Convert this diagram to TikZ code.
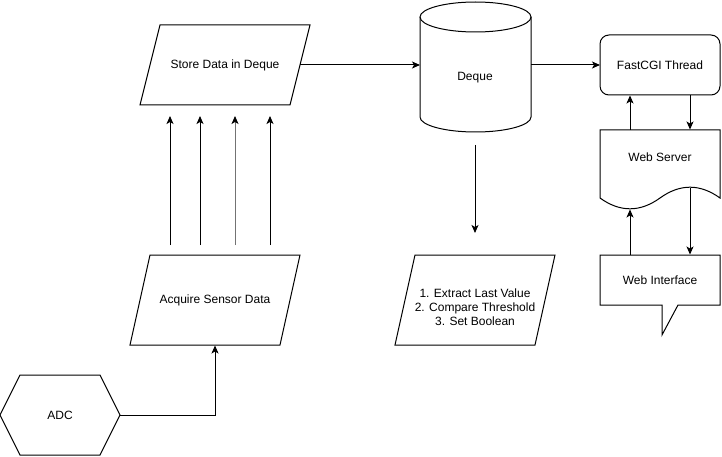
\documentclass[tikz,border=0pt]{standalone}
\usepackage{fontspec}
\setmainfont{Liberation Sans}
\usetikzlibrary{arrows.meta}
\begin{document}
\begin{tikzpicture}[x=1pt,y=-1pt,
  shp/.style={draw=black,line width=1pt,line join=miter},
  lbl/.style={font=\fontsize{12}{14}\selectfont,inner sep=0pt,align=center},
  arr/.style={draw=black,line width=1pt,-{Stealth[length=8pt,width=7pt,inset=2pt,color=black]}},
  garr/.style={arr,draw=black!55}]
\useasboundingbox (0,0) rectangle (722,457);
% shapes
\draw[shp] (160,25) -- (310,25) -- (290,105) -- (140,105) -- cycle;
\node[lbl] (store) at (225,65) {Store Data in Deque};
\draw[shp] (150,255) -- (300,255) -- (280,345) -- (130,345) -- cycle;
\node[lbl] (acq) at (215,300) {Acquire Sensor Data};
\draw[shp] (0,415) -- (20,375) -- (100,375) -- (120,415) -- (100,455) -- (20,455) -- cycle;
\node[lbl] (adc) at (60,415) {ADC};
% cylinder
\draw[shp] (420,17) -- (420,117) arc[start angle=180,end angle=360,x radius=55.5,y radius=-15] -- (531,17);
\draw[shp] (475.5,17) ellipse[x radius=55.5,y radius=15];
\node[lbl] (deque) at (475,78) {Deque};
% extract
\draw[shp] (415,255) -- (555,255) -- (535,345) -- (395,345) -- cycle;
\node[lbl] (extract) at (475,307) {1. Extract Last Value\\2. Compare Threshold\\3. Set Boolean};
% fastcgi
\draw[shp,rounded corners=9pt] (600,35) rectangle (720,95);
\node[lbl] (fcgi) at (660,65) {FastCGI Thread};
% web server document
\draw[shp] (600,198) -- (600,130) -- (720,130) -- (720,198)
  .. controls (700,183.6) and (680,183.6) .. (660,198)
  .. controls (640,212.4) and (620,212.4) .. (600,198) -- cycle;
\node[lbl] (ws) at (660,157) {Web Server};
% web interface callout
\draw[shp] (600,255) -- (720,255) -- (720,305) -- (678,305) -- (662,335) -- (662,305) -- (600,305) -- cycle;
\node[lbl] (wi) at (660,280) {Web Interface};
% anchor coordinates
\coordinate (storeR) at (300,65);
\coordinate (dequeL) at (420,65);
\coordinate (dequeR) at (531,65);
\coordinate (fcgiL) at (600,65);
\coordinate (dequeB) at (475,145);
\coordinate (extractT) at (475,233);
\coordinate (adcR) at (120,415);
\coordinate (acqB) at (215,345.5);
\foreach \i/\x in {1/170,2/200,3/235,4/270}{
  \coordinate (acqT\i) at (\x,245);
  \coordinate (storeB\i) at (\x,116);
}
\coordinate (fcgiB1) at (630,95.5);
\coordinate (fcgiB2) at (690,95.5);
\coordinate (wsT1) at (630,130);
\coordinate (wsT2) at (690,129.5);
\coordinate (wsB1) at (630,209.5);
\coordinate (wsB2) at (690,187.5);
\coordinate (wiT1) at (630,255);
\coordinate (wiT2) at (690,254.5);
% connectors
\draw[arr] (storeR) -- (dequeL);
\draw[arr] (dequeR) -- (fcgiL);
\draw[arr] (dequeB) -- (extractT);
\draw[arr] (adcR) -| (acqB);
\draw[arr] (acqT1) -- (storeB1);
\draw[arr] (acqT2) -- (storeB2);
\draw[garr] (acqT3) -- (storeB3);
\draw[arr] (acqT4) -- (storeB4);
\draw[arr] (wsT1) -- (fcgiB1);
\draw[arr] (fcgiB2) -- (wsT2);
\draw[arr] (wiT1) -- (wsB1);
\draw[arr] (wsB2) -- (wiT2);
\end{tikzpicture}
\end{document}
